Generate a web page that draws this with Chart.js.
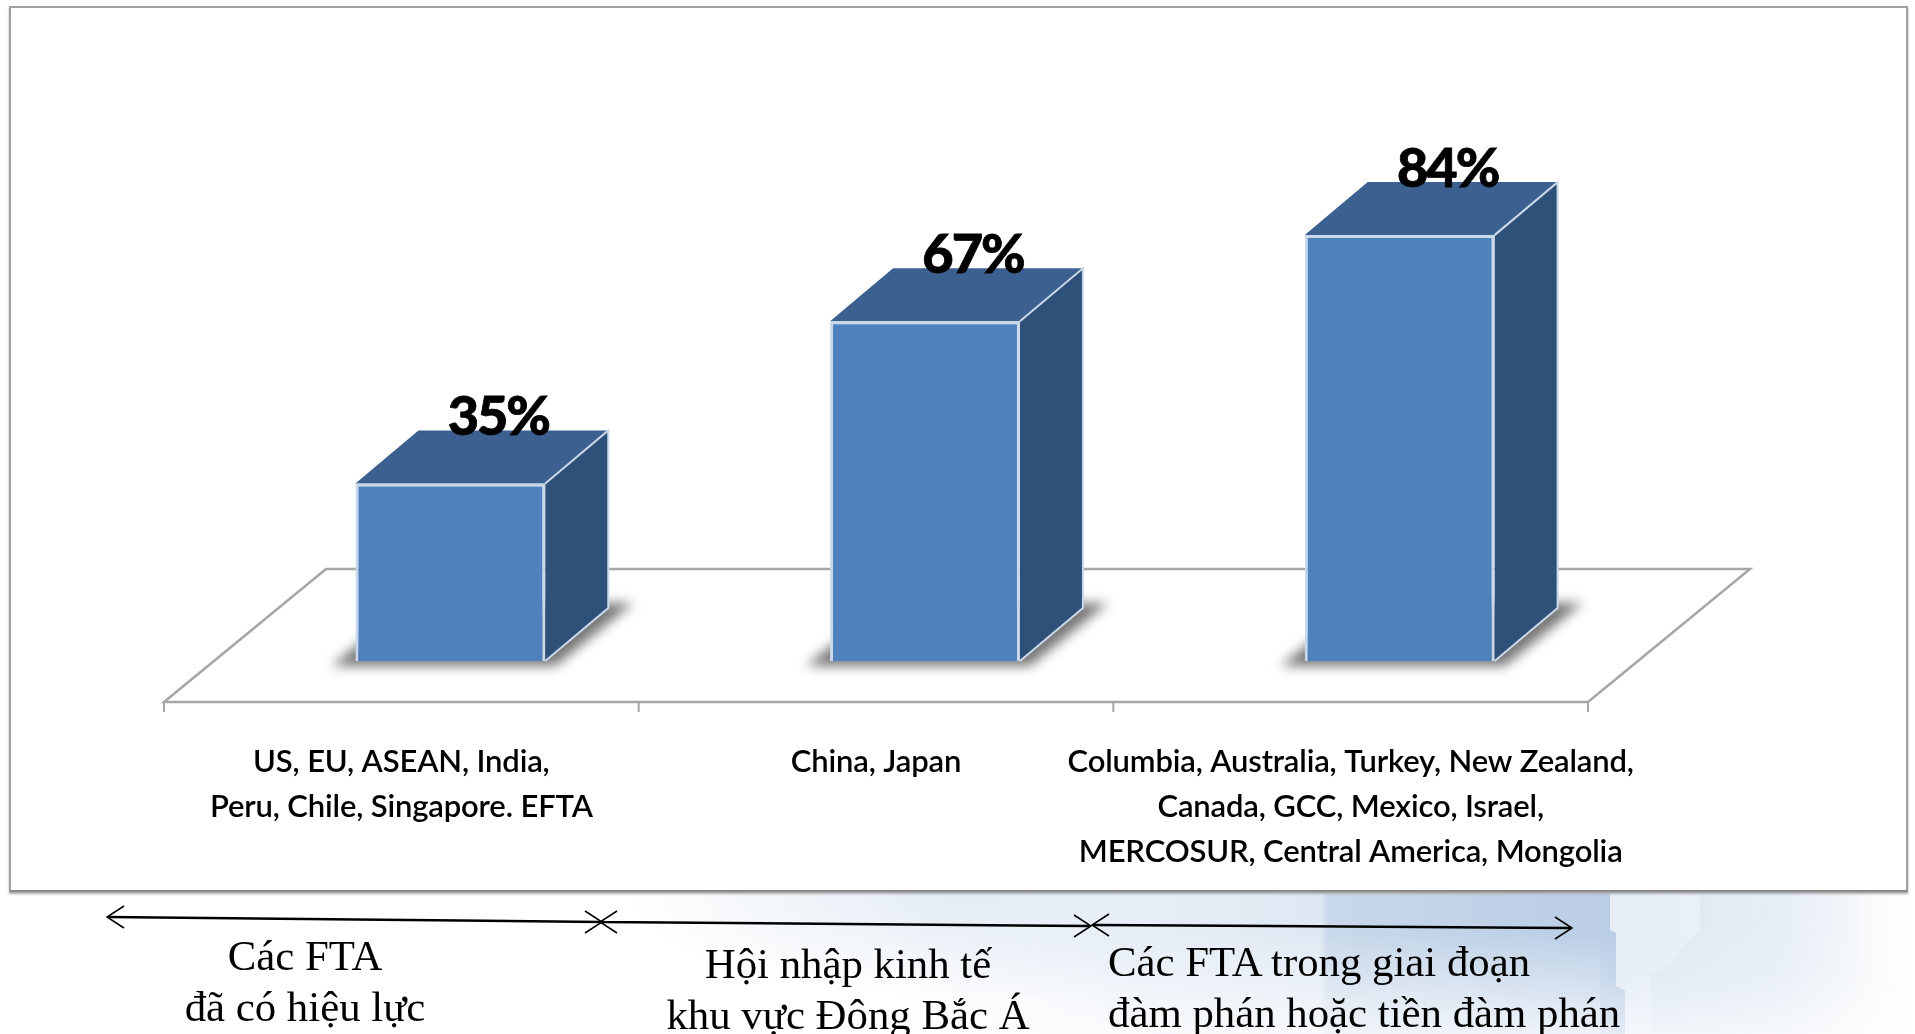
<!DOCTYPE HTML>
<html>

<head>
    <title>FTA coverage</title>
    <meta http-equiv="Content-Type" content="text/html; charset=UTF-8" />
    <script src="https://cdnjs.cloudflare.com/ajax/libs/Chart.js/4.4.1/chart.umd.min.js"></script>
    <style type="text/css">
        html, body {
            margin: 0;
            padding: 0;
            width: 1915px;
            height: 1034px;
            overflow: hidden;
            background: #fff;
        }

        .backdrop {
            position: absolute;
            top: 880px;
            height: 154px;
        }

        .haze {
            left: 600px;
            width: 1000px;
            background: radial-gradient(ellipse 360px 110px at 380px 10px, #e2eaf4 0%, rgba(226, 234, 244, 0) 100%);
        }

        .haze-right {
            left: 1600px;
            width: 315px;
            background: linear-gradient(90deg, #e6edf6 0%, #edf2f9 55%, #f8fafc 85%, #fff 100%);
            -webkit-mask-image: linear-gradient(to bottom, #000 60%, rgba(0, 0, 0, 0.45) 100%);
        }

        .map-a {
            left: 900px;
            width: 725px;
            background: linear-gradient(90deg, rgba(226, 234, 244, 0) 0%, #e6edf6 35%, #dfe8f3 58%, #c9d8ea 59%, #b9cde5 100%);
            clip-path: polygon(0 0, 710px 0, 710px 50px, 716px 53px, 716px 106px, 725px 110px, 725px 154px, 0 154px);
            -webkit-mask-image: linear-gradient(to bottom, #000 35%, rgba(0, 0, 0, 0.25) 100%);
        }

        .map-b {
            left: 1650px;
            width: 210px;
            background: linear-gradient(100deg, #dfe8f3 0%, rgba(223, 232, 243, 0) 100%);
            clip-path: polygon(50px 0, 210px 0, 210px 154px, 0 154px, 0 95px, 20px 85px, 30px 70px, 50px 50px);
            -webkit-mask-image: linear-gradient(to bottom, #000 30%, rgba(0, 0, 0, 0.1) 100%);
            filter: blur(2px);
        }

        .panel {
            position: absolute;
            left: 9px;
            top: 6px;
            width: 1895px;
            height: 882px;
            background: #fff;
            border: 2px solid #a0a0a0;
            border-bottom-color: #8a8a8a;
            box-shadow: 0 2px 2px #aaa;
        }

        #chart {
            position: absolute;
            left: 0;
            top: 0;
        }

        .arrows {
            position: absolute;
            left: 0;
            top: 0;
        }

        .caption {
            position: absolute;
            font-family: "Liberation Serif", serif;
            font-size: 42.8px;
            line-height: 51px;
            color: #000;
            white-space: nowrap;
        }

        .center {
            transform: translateX(-50%);
            text-align: center;
        }
    </style>
</head>

<body>
    <div class="backdrop haze"></div>
    <div class="backdrop haze-right"></div>
    <div class="backdrop map-a"></div>
    <div class="backdrop map-b"></div>
    <div class="panel"></div>
    <canvas id="chart" width="1915" height="1034"></canvas>
    <svg class="arrows" width="1915" height="1034" fill="none" stroke="#000" stroke-width="1.5">
        <path stroke-width="2.5" d="M108 917 L601 922 M601 922 L1090 926 M1093 925 L1571 928" />
        <path d="M124 906 L107 917 L124 928 M585 911 L602 922 L585 933" />
        <path d="M617 911 L600 922 L617 933 M1074 915 L1091 926 L1074 937" />
        <path d="M1109 914 L1092 925 L1109 936 M1555 917 L1572 928 L1555 939" />
    </svg>
    <div class="caption center" style="left:305px;top:930px">Các FTA<br>đã có hiệu lực</div>
    <div class="caption center" style="left:848px;top:938px">Hội nhập kinh tế<br>khu vực Đông Bắc Á</div>
    <div class="caption" style="left:1108px;top:936px">Các FTA trong giai đoạn<br>đàm phán hoặc tiền đàm phán</div>
</body>
<script type="text/javascript">
    const categories = [
        ['US, EU, ASEAN, India,', 'Peru, Chile, Singapore. EFTA'],
        ['China, Japan'],
        ['Columbia, Australia, Turkey, New Zealand,', 'Canada, GCC, Mexico, Israel,', 'MERCOSUR, Central America, Mongolia']
    ];
    const shares = [35, 67, 84];

    // how far the 3D look pushes things, in px
    const barDepth = { dx: 63, dy: 53 };
    const floorDepth = { dx: 162, dy: 133 };
    const frontShift = 49;

    const fakeThreeD = {
        id: 'fakeThreeD',
        beforeDraw(chart) {
            // calibri sits tighter than lato
            chart.ctx.letterSpacing = '-0.15px';
        },
        beforeDatasetsDraw(chart) {
            const ctx = chart.ctx;
            const x = chart.scales.x;
            const bottom = chart.chartArea.bottom;
            const step = (x.right - x.left) / categories.length;
            const left = x.left - frontShift;
            const right = left + step * categories.length;

            // floor
            ctx.save();
            ctx.strokeStyle = '#a6a6a6';
            ctx.lineWidth = 2.5;
            ctx.beginPath();
            ctx.moveTo(left, bottom);
            ctx.lineTo(left + floorDepth.dx, bottom - floorDepth.dy);
            ctx.lineTo(right + floorDepth.dx, bottom - floorDepth.dy);
            ctx.lineTo(right, bottom);
            ctx.closePath();
            ctx.stroke();
            ctx.lineWidth = 2;
            categories.concat([[]]).forEach((c, i) => {
                ctx.beginPath();
                ctx.moveTo(left + step * i, bottom);
                ctx.lineTo(left + step * i, bottom + 10);
                ctx.stroke();
            });
            ctx.restore();

            chart.getDatasetMeta(0).data.forEach(bar => {
                const l = bar.x - bar.width / 2;
                const r = bar.x + bar.width / 2;
                const t = bar.y;
                const b = bar.base;

                // soft shadow on the floor
                ctx.save();
                ctx.filter = 'blur(6px)';
                ctx.fillStyle = '#777';
                ctx.beginPath();
                ctx.moveTo(l - 24, b + 5);
                ctx.lineTo(r + 10, b + 5);
                ctx.lineTo(r + 88, b - 58);
                ctx.lineTo(l + 55, b - 58);
                ctx.closePath();
                ctx.fill();
                ctx.restore();

                // top face
                ctx.save();
                ctx.fillStyle = '#3c6090';
                ctx.beginPath();
                ctx.moveTo(l, t);
                ctx.lineTo(l + barDepth.dx, t - barDepth.dy);
                ctx.lineTo(r + barDepth.dx, t - barDepth.dy);
                ctx.lineTo(r, t);
                ctx.closePath();
                ctx.fill();

                // side face
                ctx.fillStyle = '#2f5079';
                ctx.beginPath();
                ctx.moveTo(r, t);
                ctx.lineTo(r + barDepth.dx, t - barDepth.dy);
                ctx.lineTo(r + barDepth.dx, b - barDepth.dy);
                ctx.lineTo(r, b);
                ctx.closePath();
                ctx.fill();

                ctx.strokeStyle = '#c9d8ea';
                ctx.lineWidth = 2;
                ctx.beginPath();
                ctx.moveTo(r, t);
                ctx.lineTo(r + barDepth.dx, t - barDepth.dy);
                ctx.lineTo(r + barDepth.dx, b - barDepth.dy);
                ctx.lineTo(r, b);
                ctx.stroke();
                ctx.restore();
            });
        },
        afterDatasetsDraw(chart) {
            const ctx = chart.ctx;
            ctx.save();
            ctx.letterSpacing = '-2px';
            ctx.font = '900 54px Lato';
            ctx.fillStyle = '#000';
            ctx.strokeStyle = '#000';
            ctx.lineWidth = 0.8;
            ctx.textAlign = 'center';
            ctx.textBaseline = 'middle';
            chart.getDatasetMeta(0).data.forEach((bar, i) => {
                const label = shares[i] + '%';
                ctx.fillText(label, bar.x + frontShift - 1, bar.y - 66);
                ctx.strokeText(label, bar.x + frontShift - 1, bar.y - 66);
            });
            ctx.restore();
        }
    };

    new Chart(document.getElementById('chart'), {
        type: 'bar',
        data: {
            labels: categories,
            datasets: [{
                data: shares,
                backgroundColor: '#4f81bd',
                borderColor: '#c9d8ea',
                borderWidth: 3,
                barPercentage: 1,
                categoryPercentage: 0.4
            }]
        },
        options: {
            responsive: false,
            animation: false,
            layout: { padding: { left: 213, right: 278, top: 154, bottom: 0 } },
            plugins: {
                legend: { display: false },
                tooltip: { enabled: false }
            },
            scales: {
                x: {
                    grid: { display: false },
                    border: { display: false },
                    afterFit(scale) { scale.height = 332; },
                    ticks: {
                        color: '#000',
                        maxRotation: 0,
                        autoSkip: false,
                        labelOffset: -frontShift,
                        padding: 29,
                        font: { family: 'Lato', size: 31, weight: 600, lineHeight: 1.46 }
                    }
                },
                y: {
                    display: false,
                    min: -8.1,
                    max: 100
                }
            }
        },
        plugins: [fakeThreeD]
    });
</script>

</html>
